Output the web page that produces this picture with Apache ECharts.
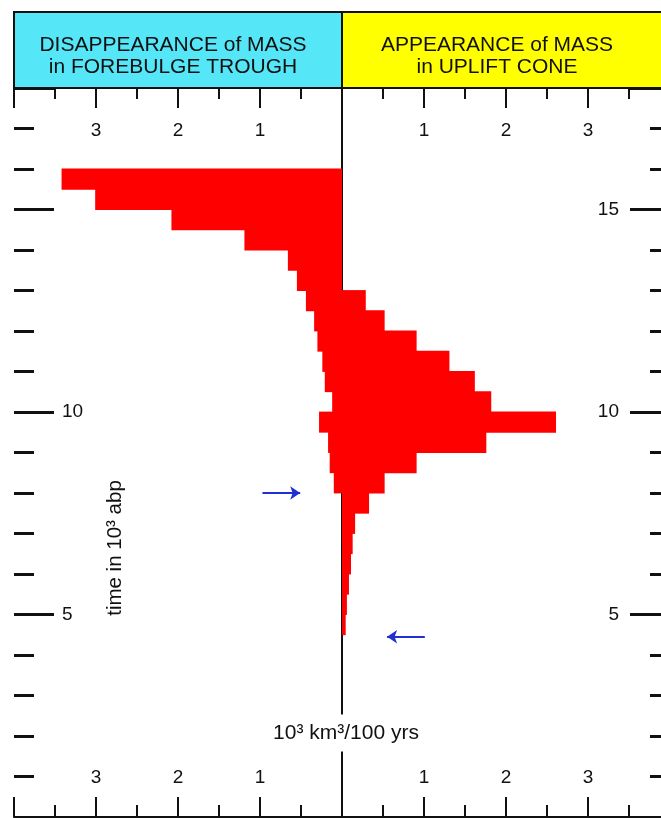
<!DOCTYPE html>
<html>
<head>
<meta charset="utf-8">
<script src="https://cdn.jsdelivr.net/npm/echarts@6/dist/echarts.min.js"></script>
<style>
html, body { margin: 0; padding: 0; background: #fff; }
#chart { width: 661px; height: 818px; }
</style>
</head>
<body>
<div id="chart"></div>
<script>
// 500 yr bins, named by their upper (older) edge, time in 10^3 yrs before present
var binTops = [16.0, 15.5, 15.0, 14.5, 14.0, 13.5, 13.0, 12.5, 12.0, 11.5, 11.0, 10.5,
               10.0, 9.5, 9.0, 8.5, 8.0, 7.5, 7.0, 6.5, 6.0, 5.5, 5.0];
// disappearance of mass in forebulge trough, 10^3 km3 / 100 yrs
var lossValues = [3.42, 3.01, 2.08, 1.19, 0.66, 0.55, 0.44, 0.34, 0.30, 0.24, 0.21, 0.12,
                  0.28, 0.17, 0.15, 0.10, 0, 0, 0, 0, 0, 0, 0];
// appearance of mass in uplift cone
var gainValues = [0, 0, 0, 0, 0, 0, 0.29, 0.52, 0.91, 1.31, 1.62, 1.82,
                  2.61, 1.76, 0.91, 0.52, 0.33, 0.16, 0.13, 0.11, 0.085, 0.06, 0.045];

// tick labels
var xTickLabels = ['', '3', '2', '1', '', '1', '2', '3', ''];   // for -4 .. 4
var leftTimeLabels = [5, 10];
var rightTimeLabels = [5, 10, 15];

// the two blue arrows (x in 10^3 km3, y in 10^3 yrs)
var arrowFrom = [[-0.97, 8.0], [1.01, 4.45]];
var arrowTo = [[-0.51, 8.0], [0.55, 4.45]];
// zero line running the full time range
var zeroLine = [[0, 0], [0, 18]];

var binNames = [];
for (var k = 1; k <= 36; k++) {
    binNames.push((k * 0.5).toFixed(1));
}

var dom = document.getElementById('chart');
var myChart = echarts.init(dom);
var FONT = '"Liberation Sans", Arial, sans-serif';
var INK = '#111';
var RED = '#ff0000';

function timeAxis(pos, step, len, labels, margin) {
    return {
        type: 'value',
        position: pos,
        min: 0,
        max: 18,
        interval: step,
        axisLine: { show: false, onZero: false },
        splitLine: { show: false },
        axisTick: { inside: true, length: len, lineStyle: { color: INK, width: 3 } },
        axisLabel: {
            show: !!labels,
            inside: true,
            margin: margin || 8,
            color: INK,
            fontFamily: FONT,
            fontSize: 19,
            formatter: function (v) {
                return labels && labels.indexOf(v) >= 0 ? String(v) : '';
            }
        }
    };
}

function massAxis(pos, margin, minorLen) {
    return {
        type: 'value',
        position: pos,
        min: -4,
        max: 4,
        interval: 1,
        axisLine: { show: true, onZero: false, lineStyle: { color: INK, width: 2 } },
        splitLine: { show: false },
        axisTick: { inside: true, length: 20, lineStyle: { color: INK, width: 2 } },
        minorTick: { show: true, splitNumber: 2, length: minorLen, lineStyle: { color: INK, width: 2 } },
        axisLabel: {
            inside: true,
            margin: margin,
            color: INK,
            fontFamily: FONT,
            fontSize: 19,
            formatter: function (v) { return xTickLabels[Math.round(v) + 4]; }
        }
    };
}

var option = {
    animation: false,
    backgroundColor: '#fff',
    // right edge of the plot sits off the page; width kept even so zero lands on a whole pixel
    grid: { left: 14, right: -9, top: 88, bottom: 1, outerBoundsMode: 'none' },
    xAxis: [
        massAxis('bottom', 30, 12),
        massAxis('top', 33, 11)
    ],
    yAxis: [
        // bins for the bars
        {
            type: 'category',
            data: binNames,
            show: false,
            axisLine: { onZero: false }
        },
        timeAxis('left', 1, 20),
        timeAxis('left', 5, 40, leftTimeLabels, 48),
        timeAxis('right', 1, 20),
        timeAxis('right', 5, 40, rightTimeLabels, 51)
    ],
    series: [
        {
            // centre line, drawn under the bars
            type: 'line',
            xAxisIndex: 0,
            yAxisIndex: 1,
            z: 1,
            symbol: 'none',
            silent: true,
            lineStyle: { color: INK, width: 2 },
            data: zeroLine
        },
        {
            name: 'disappearance',
            type: 'bar',
            xAxisIndex: 0,
            yAxisIndex: 0,
            z: 5,
            barWidth: '104%',
            barGap: '-100%',
            itemStyle: { color: RED },
            data: binTops.map(function (t, i) { return [-lossValues[i], t.toFixed(1)]; })
        },
        {
            name: 'appearance',
            type: 'bar',
            xAxisIndex: 0,
            yAxisIndex: 0,
            z: 5,
            barWidth: '104%',
            barGap: '-100%',
            itemStyle: { color: RED },
            data: binTops.map(function (t, i) { return [gainValues[i], t.toFixed(1)]; })
        },
        {
            type: 'lines',
            coordinateSystem: 'cartesian2d',
            xAxisIndex: 0,
            yAxisIndex: 1,
            z: 6,
            symbol: ['none', 'arrow'],
            symbolSize: 10,
            lineStyle: { color: '#1f2fd0', width: 2, opacity: 1 },
            data: arrowFrom.map(function (p, i) { return { coords: [p, arrowTo[i]] }; })
        }
    ],
    graphic: [
        {
            type: 'rect',
            shape: { x: 14, y: 12, width: 328, height: 76 },
            style: { fill: '#55e6f7', stroke: INK, lineWidth: 2 },
            z: 10
        },
        {
            type: 'rect',
            shape: { x: 342, y: 12, width: 340, height: 76 },
            style: { fill: '#ffff00', stroke: INK, lineWidth: 2 },
            z: 10
        },
        {
            type: 'text',
            x: 173, y: 56,
            style: {
                text: 'DISAPPEARANCE of MASS\nin FOREBULGE TROUGH',
                font: '21px ' + FONT, fill: INK,
                textAlign: 'center', textVerticalAlign: 'middle', lineHeight: 22
            },
            z: 11
        },
        {
            type: 'text',
            x: 497, y: 56,
            style: {
                text: 'APPEARANCE of MASS\nin UPLIFT CONE',
                font: '21px ' + FONT, fill: INK,
                textAlign: 'center', textVerticalAlign: 'middle', lineHeight: 22
            },
            z: 11
        },
        {
            type: 'text',
            x: 346, y: 733,
            style: {
                text: '10³ km³/100 yrs',
                font: '21px ' + FONT, fill: INK,
                textAlign: 'center', textVerticalAlign: 'middle',
                backgroundColor: '#fff', padding: [8, 3]
            },
            z: 11
        },
        {
            type: 'text',
            x: 115, y: 548,
            rotation: Math.PI / 2,
            style: {
                text: 'time in 10³ abp',
                font: '20.5px ' + FONT, fill: INK,
                textAlign: 'center', textVerticalAlign: 'middle'
            },
            z: 11
        }
    ]
};

if (option && typeof option === 'object') {
    myChart.setOption(option, true);
}
</script>
</body>
</html>
